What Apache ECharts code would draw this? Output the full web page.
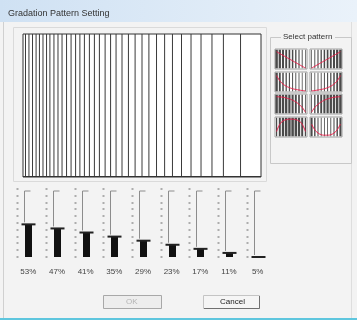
<!DOCTYPE html>
<html>
<head>
<meta charset="utf-8">
<style>
  html, body { margin: 0; padding: 0; background: #fff; }
  #chart { width: 357px; height: 322px; }
</style>
<script src="https://cdn.jsdelivr.net/npm/echarts@6/dist/echarts.min.js"></script>
</head>
<body>
<div id="chart"></div>
<script>
  // 主面板里的竖线位置（面板宽度的百分比）
  var linePositions = [1.05, 2.5, 4.0, 5.5, 6.9, 8.4, 9.9, 11.3, 13.0, 14.7, 16.4, 18.3,
    20.2, 22.1, 23.9, 25.8, 27.9, 30.0, 32.1, 34.5, 36.8, 39.1, 41.6, 44.3, 47.1, 50.0,
    52.9, 56.1, 59.5, 62.8, 66.6, 70.6, 74.8, 79.4, 84.2, 91.4]

  // 下方滑块
  var sliderValues = [53, 47, 41, 35, 29, 23, 17, 11, 5]
  var sliderLabels = ['53%', '47%', '41%', '35%', '29%', '23%', '17%', '11%', '5%']
  var sliderTicks = [5, 15, 25, 35, 45, 55, 65, 75, 85, 95, 105]

  // 右侧 Select pattern 缩略图（曲线值 0~1）
  var patternDown = [0.95, 0.85, 0.75, 0.65, 0.55, 0.45, 0.35, 0.25, 0.15, 0.05]
  var patternUp = [0.05, 0.15, 0.25, 0.35, 0.45, 0.55, 0.65, 0.75, 0.85, 0.95]
  var patternDecay = [0.9, 0.62, 0.44, 0.32, 0.24, 0.18, 0.14, 0.11, 0.08, 0.06]
  var patternGrow = [0.06, 0.08, 0.11, 0.14, 0.18, 0.24, 0.32, 0.44, 0.62, 0.9]
  var patternArcDown = [0.95, 0.94, 0.92, 0.88, 0.83, 0.76, 0.66, 0.53, 0.36, 0.1]
  var patternArcUp = [0.1, 0.36, 0.53, 0.66, 0.76, 0.83, 0.88, 0.92, 0.94, 0.95]
  var patternHump = [0.3, 0.7, 0.88, 0.95, 0.98, 0.98, 0.95, 0.88, 0.7, 0.3]
  var patternValley = [0.7, 0.4, 0.22, 0.13, 0.1, 0.1, 0.13, 0.22, 0.4, 0.7]
  var patternCats = ['1', '2', '3', '4', '5', '6', '7', '8', '9', '10']

  var thumbs = [
    { data: patternDown, left: 275, top: 49 },
    { data: patternUp, left: 310, top: 49 },
    { data: patternDecay, left: 275, top: 72 },
    { data: patternGrow, left: 310, top: 72 },
    { data: patternArcDown, left: 275, top: 94 },
    { data: patternArcUp, left: 310, top: 94 },
    { data: patternHump, left: 275, top: 117 },
    { data: patternValley, left: 310, top: 117 }
  ]

  var font = 'Liberation Sans, Arial, sans-serif'

  var grids = [
    { left: 23, top: 34, width: 238, height: 143, show: true, borderColor: '#333', borderWidth: 1, backgroundColor: '#fff' },
    { left: 14, top: 189, width: 258, height: 68 }
  ]
  var xAxes = [
    { gridIndex: 0, type: 'value', min: 0, max: 100, show: false },
    {
      gridIndex: 1, type: 'category', data: sliderLabels,
      axisLine: { show: false }, axisTick: { show: false },
      axisLabel: { fontSize: 8, color: '#444', margin: 11, fontFamily: font }
    }
  ]
  var yAxes = [
    { gridIndex: 0, type: 'value', min: 0, max: 1, show: false },
    { gridIndex: 1, type: 'value', min: 5, max: 105, show: false }
  ]

  var series = [
    {
      type: 'custom', xAxisIndex: 0, yAxisIndex: 0, silent: true,
      data: linePositions.map(function (v) { return [v] }),
      renderItem: function (params, api) {
        var a = api.coord([api.value(0), 0])
        var b = api.coord([api.value(0), 1])
        return { type: 'line', shape: { x1: a[0], y1: a[1], x2: b[0], y2: b[1] }, style: { stroke: '#3a3a3a', lineWidth: 1 } }
      }
    },
    {
      type: 'custom', xAxisIndex: 1, yAxisIndex: 1, silent: true,
      data: sliderValues.map(function (v, i) { return [i, v] }),
      renderItem: function (params, api) {
        var idx = api.value(0)
        var base = api.coord([idx, 5])
        var top = api.coord([idx, 105])
        var pt = api.coord([idx, api.value(1)])
        var cx = Math.round(base[0]) + 0.5
        var children = []
        sliderTicks.forEach(function (t) {
          var p = api.coord([idx, t])
          children.push({ type: 'rect', shape: { x: cx - 12, y: Math.round(p[1]) - 0.5, width: 2, height: 1 }, style: { fill: '#666' } })
        })
        children.push({
          type: 'polyline',
          shape: { points: [[cx - 4, pt[1] - 2], [cx - 4, top[1] + 2], [cx + 2, top[1] + 2]] },
          style: { stroke: '#8c8c8c', fill: null, lineWidth: 1 }
        })
        children.push({ type: 'rect', shape: { x: cx - 3.5, y: pt[1], width: 7, height: base[1] - pt[1] }, style: { fill: '#111' } })
        children.push({ type: 'rect', shape: { x: cx - 7, y: pt[1] - 1, width: 14, height: 2 }, style: { fill: '#222' } })
        return { type: 'group', children: children }
      }
    }
  ]

  thumbs.forEach(function (t, k) {
    var gi = k + 2
    grids.push({ left: t.left, top: t.top, width: 32, height: 20, show: true, borderColor: '#a0a0a0', borderWidth: 1, backgroundColor: '#fff' })
    xAxes.push({ gridIndex: gi, type: 'category', data: patternCats, show: false })
    yAxes.push({ gridIndex: gi, type: 'value', min: 0, max: 1.1, show: false })
    series.push({
      type: 'custom', xAxisIndex: gi, yAxisIndex: gi, silent: true,
      data: t.data.map(function (v, i) { return [i, v] }),
      renderItem: function (params, api) {
        var bw = api.size([1, 0])[0]
        var a = api.coord([api.value(0), 0.04])
        var b = api.coord([api.value(0), 1.06])
        var w = bw * (0.2 + 0.6 * api.value(1))
        return { type: 'rect', shape: { x: a[0] - w / 2, y: b[1], width: w, height: a[1] - b[1] }, style: { fill: '#4a4a4a' } }
      }
    })
    series.push({
      type: 'line', xAxisIndex: gi, yAxisIndex: gi, silent: true, smooth: true,
      showSymbol: false, data: t.data,
      lineStyle: { color: '#e8204a', width: 1 }
    })
  })

  var chart = echarts.init(document.getElementById('chart'))
  chart.setOption({
    animation: false,
    backgroundColor: '#f3f3f3',
    grid: grids,
    xAxis: xAxes,
    yAxis: yAxes,
    series: series,
    graphic: [
      // 标题栏
      {
        type: 'rect', z: -10, shape: { x: 0, y: 0, width: 357, height: 22 },
        style: { fill: new echarts.graphic.LinearGradient(0, 0, 1, 0, [{ offset: 0, color: '#cfe1f3' }, { offset: 1, color: '#eaf2fa' }]) }
      },
      { type: 'text', left: 8, top: 9, style: { text: 'Gradation Pattern Setting', fontSize: 9, fill: '#333', fontFamily: font } },
      // 对话框边框
      { type: 'line', z: -5, shape: { x1: 3.5, y1: 22, x2: 3.5, y2: 318 }, style: { stroke: '#d0d0d0' } },
      { type: 'line', z: -5, shape: { x1: 351.5, y1: 22, x2: 351.5, y2: 318 }, style: { stroke: '#dedede' } },
      { type: 'rect', z: -5, shape: { x: 0, y: 318, width: 357, height: 2 }, style: { fill: '#5ec6de' } },
      { type: 'rect', z: -5, shape: { x: 0, y: 320, width: 357, height: 2 }, style: { fill: '#ffffff' } },
      // 主面板外框
      { type: 'rect', z: -5, shape: { x: 13.5, y: 27.5, width: 253, height: 154 }, style: { fill: null, stroke: '#dadada' } },
      { type: 'line', z: 10, shape: { x1: 23, y1: 176.5, x2: 261, y2: 176.5 }, style: { stroke: '#333' } },
      // Select pattern 分组框
      { type: 'rect', z: -5, shape: { x: 270.5, y: 37.5, width: 81, height: 126 }, style: { fill: null, stroke: '#c8c8c8' } },
      { type: 'rect', z: -4, shape: { x: 281, y: 33, width: 54, height: 9 }, style: { fill: '#f3f3f3' } },
      { type: 'text', z: -3, left: 283, top: 33, style: { text: 'Select pattern', fontSize: 8, fill: '#333', fontFamily: font } },
      // 按钮
      { type: 'rect', shape: { x: 103.5, y: 295.5, width: 58, height: 13 }, style: { fill: '#ededed', stroke: '#a8a8a8' } },
      { type: 'text', left: 126, top: 298, style: { text: 'OK', fontSize: 8, fill: '#b4b4b4', fontFamily: font } },
      { type: 'rect', shape: { x: 203.5, y: 295.5, width: 56, height: 13 }, style: { fill: '#f5f5f5', stroke: '#c4c4c4' } },
      { type: 'polyline', shape: { points: [[204, 308.5], [259.5, 308.5], [259.5, 296]] }, style: { stroke: '#707070', fill: null } },
      { type: 'text', left: 220, top: 298, style: { text: 'Cancel', fontSize: 8, fill: '#222', fontFamily: font } }
    ]
  })
</script>
</body>
</html>
